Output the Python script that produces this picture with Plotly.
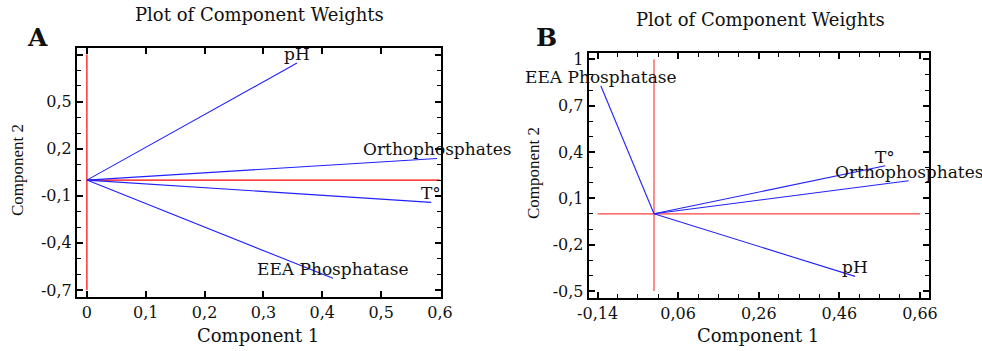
import plotly.graph_objects as go

# ---------------- data ----------------
variables_A = ["pH", "Orthophosphates", "T°", "EEA Phosphatase"]
comp1_A = [0.357, 0.595, 0.585, 0.418]
comp2_A = [0.746, 0.138, -0.142, -0.626]

variables_B = ["EEA Phosphatase", "T°", "Orthophosphates", "pH"]
comp1_B = [-0.132, 0.574, 0.632, 0.499]
comp2_B = [0.829, 0.311, 0.214, -0.405]

# reference (red) axis lines
refx_A = [0.0, 0.6]
refy_A = [-0.7, 0.8]
refx_B = [-0.14, 0.66]
refy_B = [-0.5, 1.0]

xtickvals_A = [0, 0.1, 0.2, 0.3, 0.4, 0.5, 0.6]
xticktext_A = ["0", "0,1", "0,2", "0,3", "0,4", "0,5", "0,6"]
ytickvals_A = [-0.7, -0.4, -0.1, 0.2, 0.5, 0.8]
yticktext_A = ["-0,7", "-0,4", "-0,1", "0,2", "0,5", ""]

xtickvals_B = [-0.14, 0.06, 0.26, 0.46, 0.66]
xticktext_B = ["-0,14", "0,06", "0,26", "0,46", "0,66"]
ytickvals_B = [-0.5, -0.2, 0.1, 0.4, 0.7, 1.0]
yticktext_B = ["-0,5", "-0,2", "0,1", "0,4", "0,7", "1"]

FONT = "DejaVu Serif"
FONT_V = "Liberation Serif"
BLUE = "#2020ff"
RED_A = "#ff0000"
RED_B = "#ff4040"
TXT = "#111111"

fig = go.Figure()


def add_panel(fig, xs, ys, names, refx, refy, xa, ya, red):
    fig.add_trace(go.Scatter(x=[0, 0], y=refy, mode="lines",
                             line=dict(color=red, width=1.2),
                             xaxis=xa, yaxis=ya, showlegend=False, hoverinfo="skip"))
    fig.add_trace(go.Scatter(x=refx, y=[0, 0], mode="lines",
                             line=dict(color=red, width=1.2),
                             xaxis=xa, yaxis=ya, showlegend=False, hoverinfo="skip"))
    for x, y, n in zip(xs, ys, names):
        fig.add_trace(go.Scatter(x=[0, x], y=[0, y], mode="lines",
                                 line=dict(color=BLUE, width=1.1), name=n,
                                 xaxis=xa, yaxis=ya, showlegend=False))
        fig.add_annotation(x=x, y=y, xref=xa, yref=ya, text=n, showarrow=False,
                           xanchor="center", yanchor="bottom", yshift=-3,
                           font=dict(family=FONT, size=17, color=TXT))


add_panel(fig, comp1_A, comp2_A, variables_A, refx_A, refy_A, "x", "y", RED_A)
add_panel(fig, comp1_B, comp2_B, variables_B, refx_B, refy_B, "x2", "y2", RED_B)

W, H = 982, 351


def px_x(p):
    return p / W


def px_y(p):
    return 1 - p / H


axis_common = dict(showline=True, linecolor="black", linewidth=2, mirror="allticks",
                   ticks="inside", ticklen=6, tickwidth=1.5, tickcolor="black",
                   showgrid=False, zeroline=False, automargin=False,
                   tickfont=dict(family=FONT, size=16, color=TXT))

fig.update_layout(
    template="none",
    width=W, height=H, margin=dict(l=0, r=0, t=0, b=0, pad=0),
    font=dict(family=FONT, color=TXT),
    paper_bgcolor="white", plot_bgcolor="white", showlegend=False,
    xaxis=dict(domain=[px_x(77), px_x(441)], range=[-0.0168, 0.6017],
               tickvals=xtickvals_A, ticktext=xticktext_A, anchor="y", **axis_common),
    yaxis=dict(domain=[px_y(297), px_y(48)], range=[-0.745, 0.842],
               tickvals=ytickvals_A, ticktext=yticktext_A, anchor="x",
               minor=dict(tickvals=[-0.6, -0.5, -0.3, -0.2, 0.0, 0.1, 0.3, 0.4, 0.6, 0.7],
                          ticks="inside", ticklen=4, tickcolor="black", tickwidth=1.2),
               **axis_common),
    xaxis2=dict(domain=[px_x(588.7), px_x(928.7)], range=[-0.162, 0.6816],
                tickvals=xtickvals_B, ticktext=xticktext_B, anchor="y2",
                minor=dict(tickvals=[-0.09, -0.04, 0.01, 0.11, 0.16, 0.21, 0.31, 0.36, 0.41,
                                     0.51, 0.56, 0.61],
                           ticks="inside", ticklen=4, tickcolor="black", tickwidth=1.2),
                **axis_common),
    yaxis2=dict(domain=[px_y(297.7), px_y(52.7)], range=[-0.543, 1.043],
                tickvals=ytickvals_B, ticktext=yticktext_B, anchor="x2",
                minor=dict(tickvals=[-0.4, -0.3, -0.1, 0.0, 0.2, 0.3, 0.5, 0.6, 0.8, 0.9],
                           ticks="inside", ticklen=4, tickcolor="black", tickwidth=1.2),
                **axis_common),
)

texts = [
    ("Plot of Component Weights", 259, 15, 18, FONT, 0),
    ("Plot of Component Weights", 760, 20, 18, FONT, 0),
    ("<b>A</b>", 37, 38, 25, FONT, 0),
    ("<b>B</b>", 546, 38, 25, FONT, 0),
    ("Component 1", 258, 335, 18, FONT, 0),
    ("Component 1", 758, 335, 18, FONT, 0),
    ("Component 2", 17, 170, 17, FONT_V, -90),
    ("Component 2", 534, 173, 17, FONT_V, -90),
]
for t, x, y, s, fam, ang in texts:
    fig.add_annotation(x=px_x(x), y=px_y(y), xref="paper", yref="paper", text=t,
                       showarrow=False, xanchor="center", yanchor="middle", textangle=ang,
                       font=dict(family=fam, size=s, color=TXT))

fig.write_html("out.html")
